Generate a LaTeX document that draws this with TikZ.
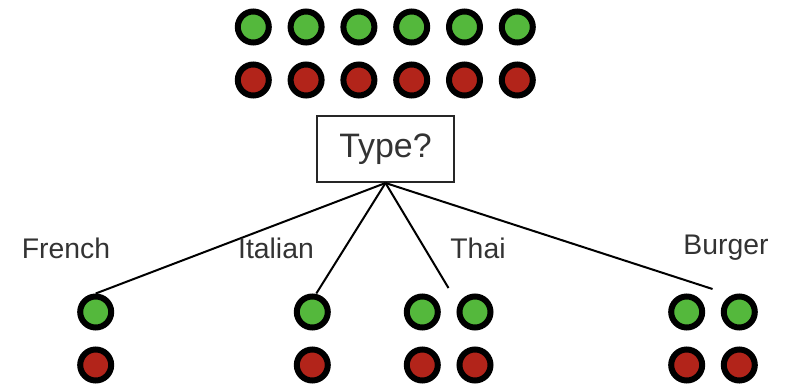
\documentclass[tikz,border=0pt]{standalone}
\usepackage{fontspec}
\setmainfont{Liberation Sans}
\usepackage{tikz}
\usetikzlibrary{shapes.geometric}
\definecolor{goodgreen}{RGB}{84,184,60}
\definecolor{badred}{RGB}{178,36,26}
\tikzset{
  yesdot/.style={shape=circle,draw=black,fill=goodgreen,line width=0.06in,minimum size=0.31in,inner sep=0pt},
  nodot/.style={yesdot,fill=badred},
  branch/.style={line width=0.02in},
  typetag/.style={font=\fontsize{20.5pt}{24pt}\selectfont,text=black!80}
}

\begin{document}
\begin{tikzpicture}
\useasboundingbox (0in,0in) rectangle (7.88in,-3.86in);

% all examples before the split
\path (2.533in,-0.27in) node (a1) [yesdot] {};
\path (3.061in,-0.27in) node (a2) [yesdot] {};
\path (3.589in,-0.27in) node (a3) [yesdot] {};
\path (4.117in,-0.27in) node (a4) [yesdot] {};
\path (4.645in,-0.27in) node (a5) [yesdot] {};
\path (5.173in,-0.27in) node (a6) [yesdot] {};

\path (2.533in,-0.80in) node (b1) [nodot] {};
\path (3.061in,-0.80in) node (b2) [nodot] {};
\path (3.589in,-0.80in) node (b3) [nodot] {};
\path (4.117in,-0.80in) node (b4) [nodot] {};
\path (4.645in,-0.80in) node (b5) [nodot] {};
\path (5.173in,-0.80in) node (b6) [nodot] {};

\path (3.855in,-1.49in) node (type) [shape=rectangle,draw=black!85,line width=0.02in,minimum width=1.37in,minimum height=0.66in,font=\fontsize{24.5pt}{28pt}\selectfont,text=black!80]{Type?};

% leaves
\path (0.957in,-3.12in) node (fr1) [yesdot] {};
\path (0.957in,-3.65in) node (fr2) [nodot] {};

\path (3.123in,-3.12in) node (it1) [yesdot] {};
\path (3.123in,-3.65in) node (it2) [nodot] {};

\path (4.223in,-3.12in) node (th1) [yesdot] {};
\path (4.750in,-3.12in) node (th2) [yesdot] {};
\path (4.223in,-3.65in) node (th3) [nodot] {};
\path (4.750in,-3.65in) node (th4) [nodot] {};

\path (6.867in,-3.12in) node (bu1) [yesdot] {};
\path (7.393in,-3.12in) node (bu2) [yesdot] {};
\path (6.867in,-3.65in) node (bu3) [nodot] {};
\path (7.393in,-3.65in) node (bu4) [nodot] {};

\path (4.485in,-2.88in) coordinate (thend);
\path (7.125in,-2.89in) coordinate (buend);

\draw [branch] (type.south) -- (fr1.north);
\draw [branch] (type.south) -- ([xshift=0.04in]it1.north);
\draw [branch] (type.south) -- (thend);
\draw [branch] (type.south) -- (buend);

\path (0.66in,-2.48in) node (frlab) [typetag] {French};
\path (2.76in,-2.48in) node (itlab) [typetag] {Italian};
\path (4.78in,-2.48in) node (thlab) [typetag] {Thai};
\path (7.26in,-2.48in) node (bulab) [typetag] {Burger};

\end{tikzpicture}
\end{document}
